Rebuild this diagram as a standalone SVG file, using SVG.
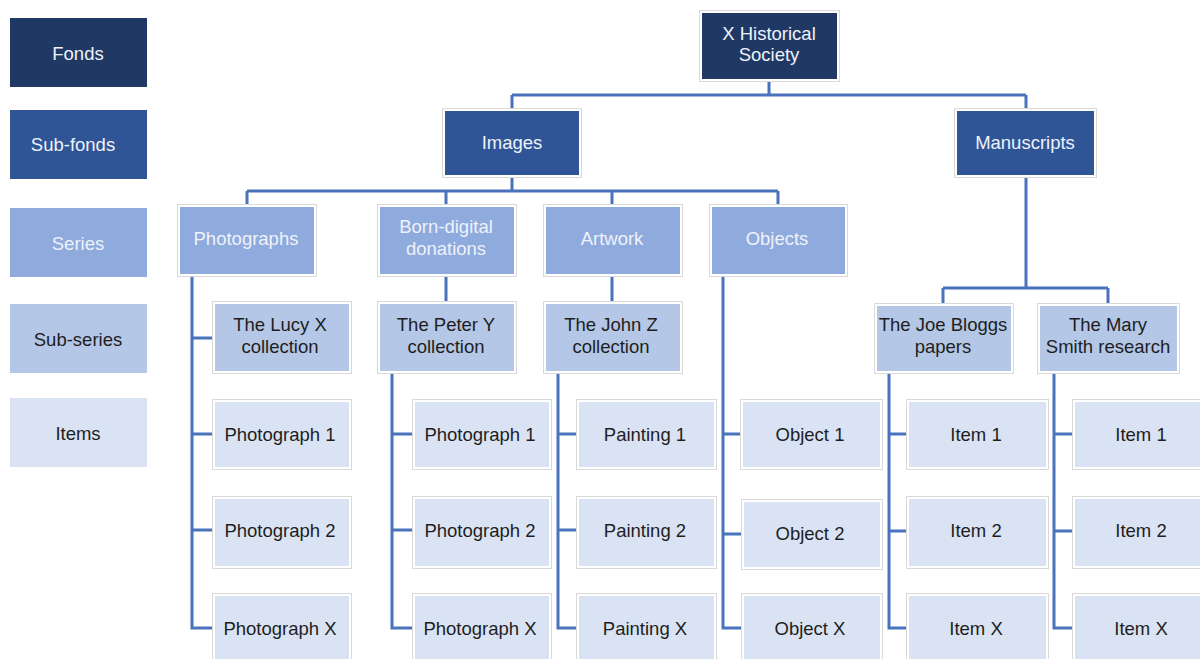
<svg xmlns="http://www.w3.org/2000/svg" width="1200" height="659" viewBox="0 0 1200 659">
<style>
.frame{fill:#fff;stroke:#d9d9d9;stroke-width:1}
.l1{fill:#203864}
.l2{fill:#2f5597}
.l3{fill:#8faadc}
.l4{fill:#b4c7e7}
.l5{fill:#dae3f3}
text{font-family:"Liberation Sans",Arial,sans-serif;font-size:18.5px;text-anchor:middle}
.tw{fill:#eef2fa}
.td{fill:#1e1e1e}
.conn{fill:none;stroke:#4a72bd;stroke-width:3}
</style>
<rect width="1200" height="659" fill="#fff"/>
<g id="legend">
<g id="leg-fonds"><rect class="l1" x="10" y="18" width="137" height="69"/><text class="tw" x="78" y="60">Fonds</text></g>
<g id="leg-subfonds"><rect class="l2" x="10" y="110" width="137" height="69"/><text class="tw" x="73" y="151">Sub-fonds</text></g>
<g id="leg-series"><rect class="l3" x="10" y="208" width="137" height="69"/><text class="tw" x="78" y="250">Series</text></g>
<g id="leg-subseries"><rect class="l4" x="10" y="304" width="137" height="69"/><text class="td" x="78" y="346">Sub-series</text></g>
<g id="leg-items"><rect class="l5" x="10" y="398" width="137" height="69"/><text class="td" x="78" y="440">Items</text></g>
</g>
<g id="connectors">
<path class="conn" d="M769 82V95M512 95H1026M512 95V108M1026 95V108"/>
<path class="conn" d="M512 178V191M247 191H778M247 191V204M446 191V204M612 191V204M778 191V204"/>
<path class="conn" d="M1026 178V288M943 288H1108M943 288V303M1108 288V303"/>
<path class="conn" d="M446 277V301M612 277V301"/>
<path class="conn" d="M192 277V628H212M192 338H212M192 434H212M192 530H212"/>
<path class="conn" d="M392 374V628H412M392 434H412M392 530H412"/>
<path class="conn" d="M558 374V628H577M558 434H577M558 530H577"/>
<path class="conn" d="M723 277V628H741M723 434H741M723 534H741"/>
<path class="conn" d="M889 374V628H907M889 434H907M889 531H907"/>
<path class="conn" d="M1054 374V628H1072M1054 434H1072M1054 531H1072"/>
</g>
<g id="n-hist"><rect class="frame" x="699.5" y="10.5" width="140" height="71"/><rect class="l1" x="702" y="13" width="135" height="66"/><text class="tw" x="769" y="40">X Historical</text><text class="tw" x="769" y="61">Society</text></g>
<g id="n-images"><rect class="frame" x="442.5" y="108.5" width="139" height="69"/><rect class="l2" x="445" y="111" width="134" height="64"/><text class="tw" x="512" y="149">Images</text></g>
<g id="n-manuscripts"><rect class="frame" x="954.5" y="108.5" width="142" height="69"/><rect class="l2" x="957" y="111" width="137" height="64"/><text class="tw" x="1025" y="149">Manuscripts</text></g>

<g id="n-photographs"><rect class="frame" x="177.5" y="204.5" width="139" height="72"/><rect class="l3" x="180" y="207" width="134" height="67"/><text class="tw" x="246" y="245">Photographs</text></g>
<g id="n-borndigital"><rect class="frame" x="377.5" y="204.5" width="139" height="72"/><rect class="l3" x="380" y="207" width="134" height="67"/><text class="tw" x="446" y="233">Born-digital</text><text class="tw" x="446" y="255">donations</text></g>
<g id="n-artwork"><rect class="frame" x="543.5" y="204.5" width="139" height="72"/><rect class="l3" x="546" y="207" width="134" height="67"/><text class="tw" x="612" y="245">Artwork</text></g>
<g id="n-objects"><rect class="frame" x="709.5" y="204.5" width="138" height="72"/><rect class="l3" x="712" y="207" width="133" height="67"/><text class="tw" x="777" y="245">Objects</text></g>

<g id="n-lucy"><rect class="frame" x="212.5" y="301.5" width="139" height="72"/><rect class="l4" x="215" y="304" width="134" height="67"/><text class="td" x="280" y="331">The Lucy X</text><text class="td" x="280" y="353">collection</text></g>
<g id="n-peter"><rect class="frame" x="377.5" y="301.5" width="139" height="72"/><rect class="l4" x="380" y="304" width="134" height="67"/><text class="td" x="446" y="331">The Peter Y</text><text class="td" x="446" y="353">collection</text></g>
<g id="n-john"><rect class="frame" x="543.5" y="301.5" width="139" height="72"/><rect class="l4" x="546" y="304" width="134" height="67"/><text class="td" x="611" y="331">The John Z</text><text class="td" x="611" y="353">collection</text></g>
<g id="n-joe"><rect class="frame" x="874.5" y="303.5" width="139" height="70"/><rect class="l4" x="877" y="306" width="134" height="65"/><text class="td" x="943" y="331">The Joe Bloggs</text><text class="td" x="943" y="353">papers</text></g>
<g id="n-mary"><rect class="frame" x="1037.5" y="303.5" width="142" height="70"/><rect class="l4" x="1040" y="306" width="137" height="65"/><text class="td" x="1108" y="331">The Mary</text><text class="td" x="1108" y="353">Smith research</text></g>

<g id="n-lucy-1"><rect class="frame" x="212.5" y="399.5" width="139" height="70"/><rect class="l5" x="215" y="402" width="134" height="65"/><text class="td" x="280" y="441">Photograph 1</text></g>
<g id="n-lucy-2"><rect class="frame" x="212.5" y="496.5" width="139" height="72"/><rect class="l5" x="215" y="499" width="134" height="67"/><text class="td" x="280" y="537">Photograph 2</text></g>
<g id="n-lucy-x"><rect class="frame" x="212.5" y="593.5" width="139" height="72"/><rect class="l5" x="215" y="596" width="134" height="67"/><text class="td" x="280" y="635">Photograph X</text></g>

<g id="n-peter-1"><rect class="frame" x="412.5" y="399.5" width="139" height="70"/><rect class="l5" x="415" y="402" width="134" height="65"/><text class="td" x="480" y="441">Photograph 1</text></g>
<g id="n-peter-2"><rect class="frame" x="412.5" y="496.5" width="139" height="72"/><rect class="l5" x="415" y="499" width="134" height="67"/><text class="td" x="480" y="537">Photograph 2</text></g>
<g id="n-peter-x"><rect class="frame" x="412.5" y="593.5" width="139" height="72"/><rect class="l5" x="415" y="596" width="134" height="67"/><text class="td" x="480" y="635">Photograph X</text></g>

<g id="n-john-1"><rect class="frame" x="576.5" y="399.5" width="140" height="70"/><rect class="l5" x="579" y="402" width="135" height="65"/><text class="td" x="645" y="441">Painting 1</text></g>
<g id="n-john-2"><rect class="frame" x="576.5" y="496.5" width="140" height="72"/><rect class="l5" x="579" y="499" width="135" height="67"/><text class="td" x="645" y="537">Painting 2</text></g>
<g id="n-john-x"><rect class="frame" x="576.5" y="593.5" width="140" height="72"/><rect class="l5" x="579" y="596" width="135" height="67"/><text class="td" x="645" y="635">Painting X</text></g>

<g id="n-obj-1"><rect class="frame" x="740.5" y="399.5" width="142" height="70"/><rect class="l5" x="743" y="402" width="137" height="65"/><text class="td" x="810" y="441">Object 1</text></g>
<g id="n-obj-2"><rect class="frame" x="741.5" y="499.5" width="141" height="70"/><rect class="l5" x="744" y="502" width="136" height="65"/><text class="td" x="810" y="540">Object 2</text></g>
<g id="n-obj-x"><rect class="frame" x="741.5" y="593.5" width="141" height="72"/><rect class="l5" x="744" y="596" width="136" height="67"/><text class="td" x="810" y="635">Object X</text></g>

<g id="n-joe-1"><rect class="frame" x="906.5" y="399.5" width="142" height="70"/><rect class="l5" x="909" y="402" width="137" height="65"/><text class="td" x="976" y="441">Item 1</text></g>
<g id="n-joe-2"><rect class="frame" x="906.5" y="496.5" width="142" height="72"/><rect class="l5" x="909" y="499" width="137" height="67"/><text class="td" x="976" y="537">Item 2</text></g>
<g id="n-joe-x"><rect class="frame" x="906.5" y="593.5" width="142" height="72"/><rect class="l5" x="909" y="596" width="137" height="67"/><text class="td" x="976" y="635">Item X</text></g>

<g id="n-mary-1"><rect class="frame" x="1072.5" y="399.5" width="142" height="70"/><rect class="l5" x="1075" y="402" width="137" height="65"/><text class="td" x="1141" y="441">Item 1</text></g>
<g id="n-mary-2"><rect class="frame" x="1072.5" y="496.5" width="142" height="72"/><rect class="l5" x="1075" y="499" width="137" height="67"/><text class="td" x="1141" y="537">Item 2</text></g>
<g id="n-mary-x"><rect class="frame" x="1072.5" y="593.5" width="142" height="72"/><rect class="l5" x="1075" y="596" width="137" height="67"/><text class="td" x="1141" y="635">Item X</text></g>
</svg>
